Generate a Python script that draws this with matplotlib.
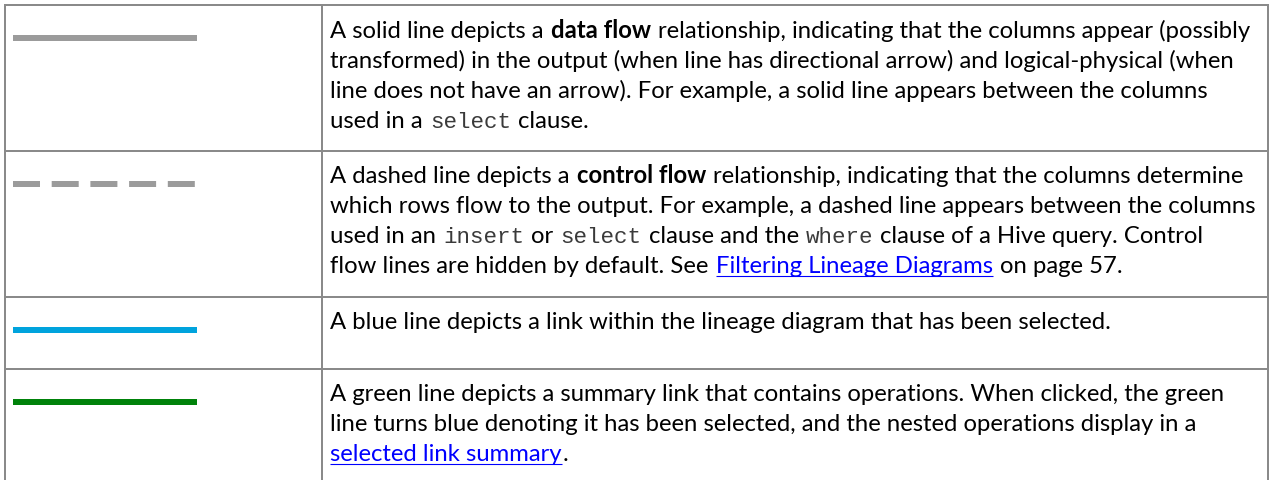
"""Line legend table for the lineage diagram (gray/dashed/blue/green links)."""
import matplotlib
matplotlib.use("Agg")
import matplotlib.pyplot as plt

W, H = 1272, 481
PT = 72 / 100  # points per pixel at dpi=100

# --- table content -------------------------------------------------------
sample_styles = ["solid", "dashed", "solid", "solid"]
sample_colors = ["#9b9b9b", "#9b9b9b", "#00a3dd", "#00820a"]

desc_solid = [
    [("A solid line depicts a ", "reg"), ("data flow", "bold"),
     (" relationship, indicating that the columns appear (possibly", "reg")],
    [("transformed) in the output (when line has directional arrow) and logical-physical (when", "reg")],
    [("line does not have an arrow). For example, a solid line appears between the columns", "reg")],
    [("used in a ", "reg"), ("select", "mono"), (" clause.", "reg")],
]
desc_dashed = [
    [("A dashed line depicts a ", "reg"), ("control flow", "bold"),
     (" relationship, indicating that the columns determine", "reg")],
    [("which rows flow to the output. For example, a dashed line appears between the columns", "reg")],
    [("used in an ", "reg"), ("insert", "mono"), (" or ", "reg"), ("select", "mono"),
     (" clause and the ", "reg"), ("where", "mono"), (" clause of a Hive query. Control", "reg")],
    [("flow lines are hidden by default. See ", "reg"), ("Filtering Lineage Diagrams", "link"),
     (" on page 57.", "reg")],
]
desc_blue = [
    [("A blue line depicts a link within the lineage diagram that has been selected.", "reg")],
]
desc_green = [
    [("A green line depicts a summary link that contains operations. When clicked, the green", "reg")],
    [("line turns blue denoting it has been selected, and the nested operations display in a", "reg")],
    [("selected link summary", "link"), (".", "reg")],
]
descriptions = [desc_solid, desc_dashed, desc_blue, desc_green]

# --- layout (pixels) -----------------------------------------------------
row_heights = [146, 146, 72, 140]
table_top, table_left, table_right, col_split = 6, 5, 1268, 322
text_x, text_max, first_base, line_gap = 330, 1260, 31.5, 30
sample_x = (13, 197)
sample_dy = 33
border = "#8a8a8a"
LINK = "#0000ff"

fig = plt.figure(figsize=(W / 100, H / 100), dpi=100)
ax = fig.add_axes([0, 0, 1, 1])
ax.set_xlim(0, W); ax.set_ylim(H, 0); ax.axis("off")
renderer = fig.canvas.get_renderer()

props = {
    "reg": dict(family="Lato", fontweight="normal", color="black"),
    "bold": dict(family="Lato", fontweight="bold", color="black"),
    "mono": dict(family="Liberation Mono", fontweight="normal", color="#3a3a3a", fontsize=16.2),
    "link": dict(family="Lato", fontweight="normal", color=LINK),
}


def set_size(fs):
    for k in ("reg", "bold", "link"):
        props[k]["fontsize"] = fs


def width(s, style):
    t = ax.text(0, 0, s, **props[style])
    w = t.get_window_extent(renderer).width
    t.remove()
    return w


def line_width(runs, space):
    x = 0
    for s, style in runs:
        core = s.strip(" ")
        x += (len(s) - len(core)) * space[style]
        if core:
            x += width(core, style) + 1
    return x


# fit the body font so the longest line just fits inside the text cell
fs = 15.0
set_size(fs)
space = {k: width("a a", k) - width("aa", k) for k in props}
widest = max(line_width(r, space) for d in descriptions for r in d)
fs *= (text_max - text_x) / widest
set_size(fs)
space = {k: width("a a", k) - width("aa", k) for k in props}


def draw_runs(y, runs):
    x = text_x
    for s, style in runs:
        lead = len(s) - len(s.lstrip(" "))
        trail = len(s) - len(s.rstrip(" "))
        x += lead * space[style]
        core = s.strip(" ")
        if core:
            t = ax.text(x, y, core, va="baseline", ha="left", **props[style])
            w = t.get_window_extent(renderer).width
            if style == "link":
                ax.plot([x, x + w], [y + 3, y + 3], color=LINK, lw=1.1 * PT,
                        solid_capstyle="butt")
            x += w + 1
        x += trail * space[style]


# rows
y = table_top
for style, col, desc, h in zip(sample_styles, sample_colors, descriptions, row_heights):
    ys = y + sample_dy
    if style == "dashed":
        ax.plot(sample_x, [ys, ys], color=col, lw=6 * PT, dashes=(4.5, 1.95),
                dash_capstyle="butt")
    else:
        ax.plot(sample_x, [ys, ys], color=col, lw=6 * PT, solid_capstyle="butt")
    for i, runs in enumerate(desc):
        draw_runs(y + first_base + i * line_gap, runs)
    y += h
    if y < H:
        ax.plot([table_left, table_right], [y, y], color=border, lw=2 * PT)

# outer frame and column divider
lw = 2 * PT
ax.plot([table_left, table_right], [table_top, table_top], color=border, lw=lw)
ax.plot([table_left, table_left], [table_top, H], color=border, lw=lw)
ax.plot([table_right, table_right], [table_top, H], color=border, lw=lw)
ax.plot([col_split, col_split], [table_top, H], color=border, lw=lw)

fig.savefig("out.png", dpi=100)
